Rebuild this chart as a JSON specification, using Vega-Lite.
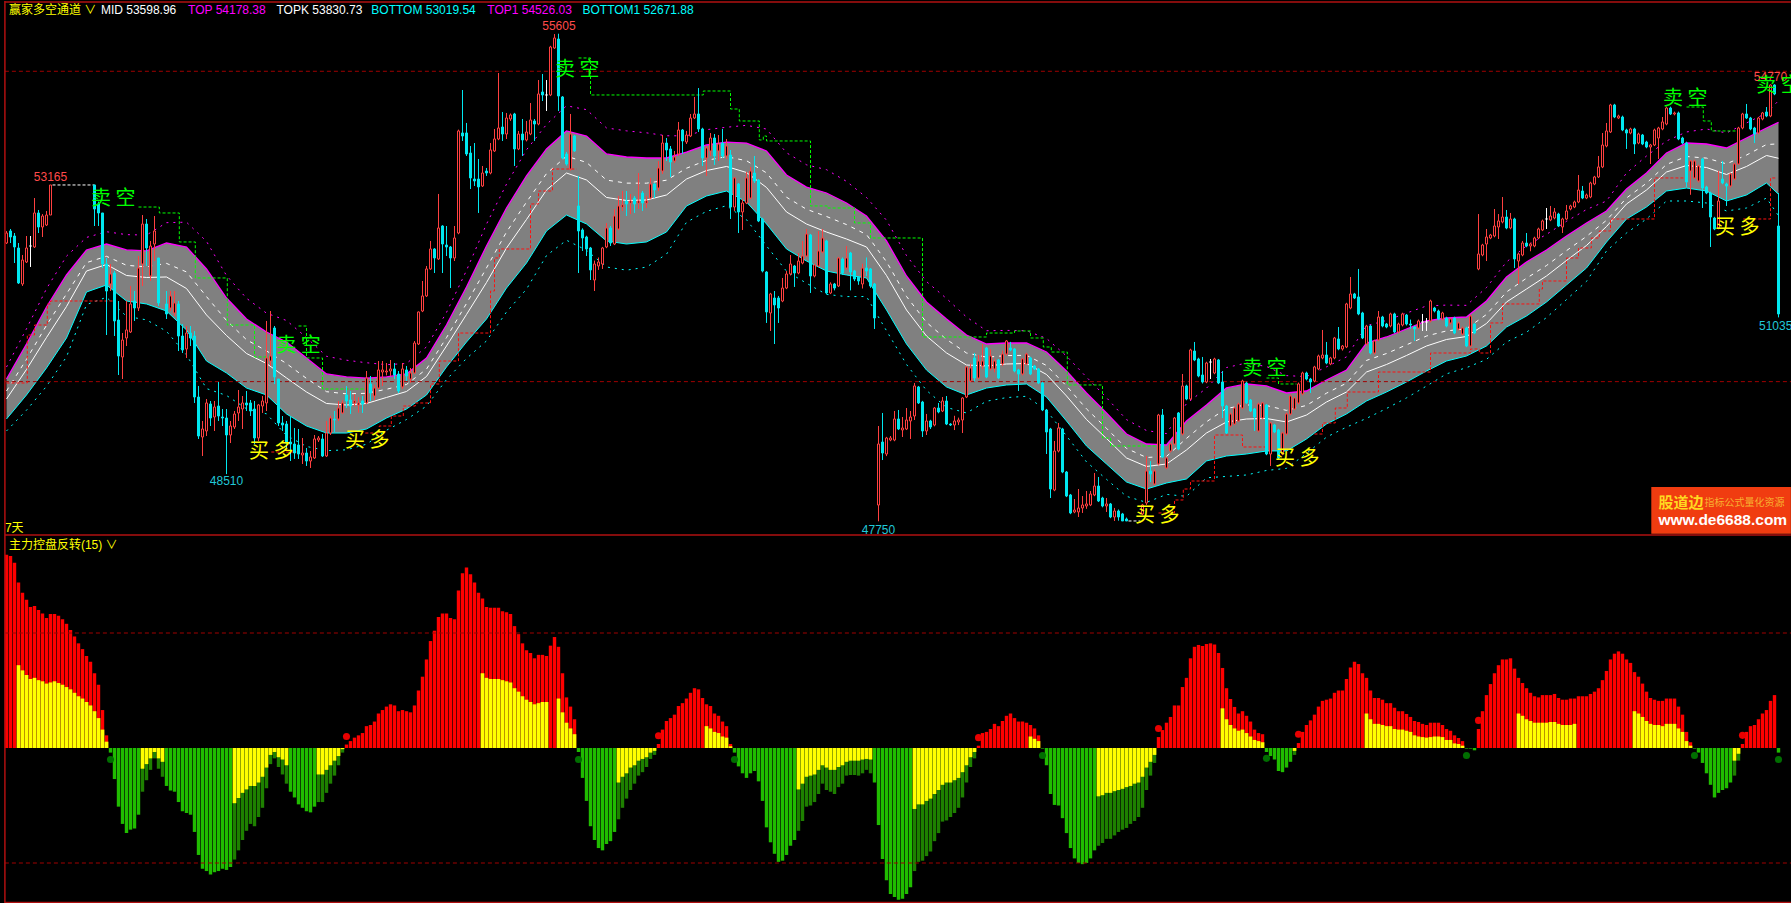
{"$schema":"https://vega.github.io/schema/vega-lite/v6.json","background":"#000000","padding":0,"spacing":0,"bounds":"flush","config":{"view":{"stroke":null},"concat":{"spacing":0}},
"datasets":{
"band":[{"i":0,"t":50042,"b":49398,"m":49720,"k":49849,"u":50235,"d":49205},{"i":5,"t":50606,"b":49785,"m":50196,"k":50360,"u":50852,"d":49540},{"i":10,"t":51202,"b":50220,"m":50711,"k":50907,"u":51497,"d":49925},{"i":15,"t":51718,"b":50703,"m":51210,"k":51413,"u":52021,"d":50399},{"i":20,"t":52121,"b":51444,"m":51782,"k":51917,"u":52323,"d":51241},{"i":25,"t":52217,"b":51557,"m":51887,"k":52019,"u":52415,"d":51359},{"i":30,"t":52121,"b":51299,"m":51710,"k":51874,"u":52368,"d":51052},{"i":35,"t":52105,"b":51251,"m":51678,"k":51849,"u":52361,"d":50995},{"i":40,"t":52233,"b":51138,"m":51686,"k":51905,"u":52561,"d":50811},{"i":45,"t":52169,"b":50832,"m":51500,"k":51767,"u":52569,"d":50431},{"i":50,"t":51815,"b":50332,"m":51074,"k":51370,"u":52260,"d":49888},{"i":55,"t":51347,"b":50139,"m":50743,"k":50985,"u":51709,"d":49777},{"i":60,"t":51009,"b":49897,"m":50453,"k":50675,"u":51343,"d":49563},{"i":65,"t":50800,"b":49785,"m":50292,"k":50495,"u":51103,"d":49481},{"i":70,"t":50638,"b":49479,"m":50059,"k":50291,"u":50985,"d":49133},{"i":75,"t":50381,"b":49285,"m":49833,"k":50052,"u":50710,"d":48956},{"i":80,"t":50123,"b":49172,"m":49648,"k":49838,"u":50408,"d":48888},{"i":85,"t":50075,"b":49172,"m":49623,"k":49803,"u":50345,"d":48901},{"i":90,"t":50058,"b":49237,"m":49648,"k":49812,"u":50304,"d":48992},{"i":95,"t":50075,"b":49414,"m":49745,"k":49877,"u":50273,"d":49217},{"i":100,"t":50123,"b":49559,"m":49841,"k":49954,"u":50292,"d":49390},{"i":105,"t":50381,"b":49785,"m":50083,"k":50202,"u":50560,"d":49606},{"i":110,"t":50912,"b":50236,"m":50574,"k":50709,"u":51115,"d":50033},{"i":115,"t":51525,"b":50638,"m":51082,"k":51259,"u":51791,"d":50373},{"i":120,"t":52185,"b":51009,"m":51597,"k":51832,"u":52538,"d":50656},{"i":125,"t":52797,"b":51508,"m":52152,"k":52410,"u":53182,"d":51122},{"i":130,"t":53313,"b":51911,"m":52612,"k":52892,"u":53734,"d":51490},{"i":135,"t":53748,"b":52427,"m":53087,"k":53351,"u":54143,"d":52031},{"i":140,"t":54038,"b":52684,"m":53361,"k":53632,"u":54444,"d":52278},{"i":145,"t":53957,"b":52540,"m":53249,"k":53532,"u":54382,"d":52116},{"i":150,"t":53667,"b":52266,"m":52967,"k":53247,"u":54087,"d":51847},{"i":155,"t":53619,"b":52217,"m":52918,"k":53198,"u":54040,"d":51796},{"i":160,"t":53603,"b":52250,"m":52926,"k":53197,"u":54008,"d":51845},{"i":165,"t":53603,"b":52411,"m":53007,"k":53245,"u":53961,"d":52053},{"i":170,"t":53699,"b":52829,"m":53264,"k":53438,"u":53960,"d":52568},{"i":175,"t":53812,"b":52991,"m":53401,"k":53565,"u":54059,"d":52743},{"i":180,"t":53860,"b":53071,"m":53466,"k":53624,"u":54098,"d":52834},{"i":185,"t":53844,"b":52894,"m":53369,"k":53559,"u":54129,"d":52609},{"i":190,"t":53716,"b":52540,"m":53128,"k":53363,"u":54069,"d":52187},{"i":195,"t":53329,"b":52137,"m":52733,"k":52971,"u":53687,"d":51779},{"i":200,"t":53135,"b":51943,"m":52539,"k":52777,"u":53493,"d":51585},{"i":205,"t":53039,"b":51782,"m":52410,"k":52661,"u":53415,"d":51405},{"i":210,"t":52878,"b":51718,"m":52298,"k":52530,"u":53226,"d":51370},{"i":215,"t":52668,"b":51670,"m":52169,"k":52369,"u":52967,"d":51371},{"i":220,"t":52266,"b":51154,"m":51710,"k":51932,"u":52600,"d":50820},{"i":225,"t":51702,"b":50606,"m":51154,"k":51373,"u":52031,"d":50277},{"i":230,"t":51283,"b":50187,"m":50735,"k":50954,"u":51612,"d":49858},{"i":235,"t":51009,"b":49914,"m":50462,"k":50681,"u":51339,"d":49585},{"i":240,"t":50751,"b":49785,"m":50268,"k":50461,"u":51041,"d":49495},{"i":245,"t":50606,"b":49897,"m":50252,"k":50394,"u":50820,"d":49684},{"i":250,"t":50622,"b":49946,"m":50284,"k":50419,"u":50825,"d":49743},{"i":255,"t":50622,"b":49962,"m":50292,"k":50424,"u":50820,"d":49764},{"i":260,"t":50477,"b":49752,"m":50115,"k":50260,"u":50696,"d":49534},{"i":265,"t":50171,"b":49366,"m":49769,"k":49930,"u":50412,"d":49126},{"i":270,"t":49817,"b":48963,"m":49390,"k":49561,"u":50073,"d":48707},{"i":275,"t":49495,"b":48673,"m":49084,"k":49248,"u":49742,"d":48426},{"i":280,"t":49156,"b":48383,"m":48770,"k":48924,"u":49388,"d":48152},{"i":285,"t":48995,"b":48270,"m":48633,"k":48778,"u":49212,"d":48054},{"i":290,"t":48979,"b":48367,"m":48673,"k":48795,"u":49163,"d":48183},{"i":295,"t":49366,"b":48432,"m":48899,"k":49086,"u":49646,"d":48152},{"i":300,"t":49624,"b":48722,"m":49173,"k":49353,"u":49895,"d":48451},{"i":305,"t":49898,"b":48802,"m":49350,"k":49569,"u":50227,"d":48473},{"i":310,"t":49962,"b":48834,"m":49398,"k":49624,"u":50300,"d":48496},{"i":315,"t":49930,"b":48883,"m":49406,"k":49615,"u":50243,"d":48569},{"i":320,"t":49817,"b":48883,"m":49350,"k":49537,"u":50097,"d":48603},{"i":325,"t":49849,"b":49076,"m":49462,"k":49617,"u":50081,"d":48843},{"i":330,"t":50026,"b":49318,"m":49672,"k":49814,"u":50238,"d":49106},{"i":335,"t":50187,"b":49479,"m":49833,"k":49975,"u":50399,"d":49267},{"i":340,"t":50622,"b":49688,"m":50155,"k":50342,"u":50902,"d":49408},{"i":345,"t":50719,"b":49833,"m":50276,"k":50453,"u":50985,"d":49567},{"i":350,"t":50848,"b":49994,"m":50421,"k":50592,"u":51104,"d":49738},{"i":355,"t":50977,"b":50171,"m":50574,"k":50735,"u":51219,"d":49929},{"i":360,"t":51025,"b":50332,"m":50679,"k":50817,"u":51233,"d":50125},{"i":365,"t":51041,"b":50413,"m":50727,"k":50853,"u":51229,"d":50225},{"i":370,"t":51299,"b":50574,"m":50937,"k":51082,"u":51516,"d":50358},{"i":375,"t":51686,"b":50880,"m":51283,"k":51444,"u":51928,"d":50638},{"i":380,"t":51927,"b":51057,"m":51492,"k":51666,"u":52188,"d":50796},{"i":385,"t":52121,"b":51283,"m":51702,"k":51870,"u":52372,"d":51032},{"i":390,"t":52346,"b":51557,"m":51952,"k":52110,"u":52582,"d":51322},{"i":395,"t":52556,"b":51831,"m":52194,"k":52339,"u":52773,"d":51615},{"i":400,"t":52749,"b":52249,"m":52499,"k":52599,"u":52910,"d":52105},{"i":405,"t":53103,"b":52620,"m":52862,"k":52958,"u":53361,"d":52394},{"i":410,"t":53361,"b":52813,"m":53087,"k":53197,"u":53635,"d":52620},{"i":415,"t":53683,"b":53071,"m":53377,"k":53499,"u":53877,"d":52910},{"i":420,"t":53844,"b":53119,"m":53482,"k":53627,"u":54022,"d":52910},{"i":425,"t":53828,"b":53071,"m":53450,"k":53601,"u":54070,"d":52878},{"i":430,"t":53764,"b":52910,"m":53337,"k":53508,"u":54006,"d":52749},{"i":435,"t":53925,"b":53007,"m":53466,"k":53650,"u":54167,"d":52797},{"i":440,"t":54086,"b":53200,"m":53643,"k":53820,"u":54328,"d":52958},{"i":443,"t":54178,"b":53019,"m":53598,"k":53830,"u":54526,"d":52672}],
"steps":[{"s":"g1","c":"g","i":33,"p":52813},{"s":"g1","c":"g","i":38.2,"p":52717},{"s":"g1","c":"g","i":43.2,"p":52250},{"s":"g1","c":"g","i":47.2,"p":51670},{"s":"g1","c":"g","i":55.2,"p":50912},{"s":"g1","c":"g","i":62,"p":50397},{"s":"g1","c":"g","i":66,"p":50397},{"s":"g2","c":"g","i":73,"p":50896},{"s":"g2","c":"g","i":75,"p":50381},{"s":"g2","c":"g","i":79,"p":49881},{"s":"g2","c":"g","i":89.7,"p":49881},{"s":"g3","c":"g","i":143,"p":55214},{"s":"g3","c":"g","i":146,"p":54618},{"s":"g3","c":"g","i":174.2,"p":54682},{"s":"g3","c":"g","i":181,"p":54392},{"s":"g3","c":"g","i":183.2,"p":54199},{"s":"g3","c":"g","i":188.2,"p":53893},{"s":"g3","c":"g","i":189.2,"p":53957},{"s":"g3","c":"g","i":190,"p":53877},{"s":"g3","c":"g","i":201,"p":52830},{"s":"g3","c":"g","i":205.2,"p":52797},{"s":"g3","c":"g","i":212,"p":52556},{"s":"g3","c":"g","i":216,"p":52314},{"s":"g3","c":"g","i":229,"p":50719},{"s":"g3","c":"g","i":245,"p":50783},{"s":"g3","c":"g","i":252,"p":50816},{"s":"g3","c":"g","i":256,"p":50703},{"s":"g3","c":"g","i":259.2,"p":50558},{"s":"g3","c":"g","i":261.2,"p":50477},{"s":"g3","c":"g","i":265.2,"p":49946},{"s":"g3","c":"g","i":274,"p":49092},{"s":"g3","c":"g","i":276,"p":48963},{"s":"g3","c":"g","i":287.7,"p":48963},{"s":"g4","c":"g","i":315,"p":50058},{"s":"g4","c":"g","i":318,"p":49962},{"s":"g4","c":"g","i":322.5,"p":49962},{"s":"g5","c":"g","i":420,"p":54424},{"s":"g5","c":"g","i":424.2,"p":54199},{"s":"g5","c":"g","i":426.2,"p":54038},{"s":"g5","c":"g","i":433,"p":54038},{"s":"w1","c":"w","i":11.5,"p":53168},{"s":"w1","c":"w","i":22,"p":53168},{"s":"w2","c":"w","i":280.5,"p":47755},{"s":"w2","c":"w","i":283.5,"p":47755},{"s":"r1","c":"r","i":0,"p":49978},{"s":"r1","c":"r","i":5.2,"p":50751},{"s":"r1","c":"r","i":7,"p":50912},{"s":"r1","c":"r","i":10.2,"p":51251},{"s":"r1","c":"r","i":11,"p":51299},{"s":"r1","c":"r","i":26.7,"p":51299},{"s":"r2","c":"r","i":66.2,"p":48866},{"s":"r2","c":"r","i":73,"p":48866},{"s":"r3","c":"r","i":89.7,"p":49172},{"s":"r3","c":"r","i":93.2,"p":49285},{"s":"r3","c":"r","i":96.2,"p":49446},{"s":"r3","c":"r","i":99.2,"p":49607},{"s":"r3","c":"r","i":102.2,"p":49656},{"s":"r3","c":"r","i":106,"p":49962},{"s":"r3","c":"r","i":108.2,"p":50332},{"s":"r3","c":"r","i":113,"p":50783},{"s":"r3","c":"r","i":121,"p":51460},{"s":"r3","c":"r","i":122,"p":51992},{"s":"r3","c":"r","i":123.2,"p":52137},{"s":"r3","c":"r","i":131,"p":52862},{"s":"r3","c":"r","i":133,"p":53071},{"s":"r3","c":"r","i":136.5,"p":53425},{"s":"r3","c":"r","i":142.5,"p":53425},{"s":"r4","c":"r","i":288,"p":47884},{"s":"r4","c":"r","i":292,"p":48093},{"s":"r4","c":"r","i":294.2,"p":48270},{"s":"r4","c":"r","i":296,"p":48399},{"s":"r4","c":"r","i":302,"p":49140},{"s":"r4","c":"r","i":309,"p":48947},{"s":"r4","c":"r","i":314.7,"p":48947},{"s":"r5","c":"r","i":327,"p":49156},{"s":"r5","c":"r","i":329,"p":49334},{"s":"r5","c":"r","i":332.2,"p":49575},{"s":"r5","c":"r","i":335.2,"p":49833},{"s":"r5","c":"r","i":343,"p":50155},{"s":"r5","c":"r","i":356,"p":50461},{"s":"r5","c":"r","i":366,"p":50526},{"s":"r5","c":"r","i":368.2,"p":50461},{"s":"r5","c":"r","i":371,"p":50945},{"s":"r5","c":"r","i":374,"p":51251},{"s":"r5","c":"r","i":383.2,"p":51492},{"s":"r5","c":"r","i":384,"p":51621},{"s":"r5","c":"r","i":390,"p":51992},{"s":"r5","c":"r","i":393,"p":52153},{"s":"r5","c":"r","i":396.2,"p":52314},{"s":"r5","c":"r","i":398.2,"p":52427},{"s":"r5","c":"r","i":401,"p":52620},{"s":"r5","c":"r","i":412,"p":53281},{"s":"r5","c":"r","i":420,"p":53281},{"s":"r6","c":"r","i":434.2,"p":52620},{"s":"r6","c":"r","i":441,"p":53281},{"s":"r6","c":"r","i":442.7,"p":53281}],
"candles":[{"i":0,"o":52233,"h":52427,"l":52217,"c":52394},{"i":1,"o":52427,"h":52459,"l":52233,"c":52330},{"i":2,"o":52346,"h":52394,"l":51911,"c":52169},{"i":3,"o":52153,"h":52233,"l":51573,"c":51589},{"i":4,"o":51573,"h":52040,"l":51541,"c":51959},{"i":5,"o":51927,"h":52346,"l":51911,"c":52153},{"i":6,"o":52185,"h":52346,"l":51847,"c":52185},{"i":7,"o":52169,"h":52958,"l":52153,"c":52717},{"i":8,"o":52717,"h":52765,"l":52394,"c":52491},{"i":9,"o":52491,"h":52700,"l":52330,"c":52668},{"i":10,"o":52523,"h":52749,"l":52507,"c":52684},{"i":11,"o":52684,"h":53168,"l":52684,"c":53168},{"i":22,"o":53168,"h":53168,"l":52507,"c":52781},{"i":23,"o":52862,"h":52900,"l":52507,"c":52717},{"i":24,"o":52717,"h":52717,"l":51830,"c":51895},{"i":25,"o":51895,"h":51992,"l":50751,"c":51460},{"i":26,"o":51573,"h":51895,"l":51460,"c":51734},{"i":27,"o":51750,"h":51782,"l":50735,"c":50977},{"i":28,"o":50993,"h":51299,"l":50107,"c":50413},{"i":29,"o":50397,"h":50783,"l":50042,"c":50670},{"i":30,"o":50703,"h":51299,"l":50574,"c":50832},{"i":31,"o":50800,"h":51541,"l":50783,"c":51251},{"i":32,"o":51299,"h":51460,"l":50977,"c":51186},{"i":33,"o":51186,"h":52024,"l":51138,"c":51830},{"i":34,"o":51895,"h":52684,"l":51541,"c":52539},{"i":35,"o":52539,"h":52620,"l":51863,"c":52153},{"i":36,"o":51702,"h":52266,"l":51621,"c":52185},{"i":37,"o":52217,"h":52668,"l":51943,"c":52427},{"i":38,"o":51992,"h":51992,"l":51219,"c":51267},{"i":40,"o":51251,"h":51460,"l":51009,"c":51090},{"i":41,"o":51186,"h":51460,"l":51138,"c":51380},{"i":42,"o":51106,"h":51460,"l":51057,"c":51267},{"i":43,"o":51251,"h":51299,"l":50493,"c":50735},{"i":44,"o":50735,"h":50928,"l":50461,"c":50510},{"i":45,"o":50526,"h":50896,"l":50381,"c":50783},{"i":46,"o":50783,"h":50896,"l":50574,"c":50703},{"i":47,"o":50735,"h":50816,"l":49656,"c":49752},{"i":48,"o":49752,"h":49930,"l":49076,"c":49124},{"i":49,"o":49108,"h":49366,"l":48802,"c":49237},{"i":50,"o":49205,"h":49720,"l":49124,"c":49656},{"i":51,"o":49640,"h":49688,"l":49285,"c":49414},{"i":52,"o":49430,"h":49688,"l":49205,"c":49591},{"i":53,"o":49607,"h":49994,"l":49366,"c":49446},{"i":54,"o":49430,"h":49559,"l":49285,"c":49414},{"i":55,"o":49414,"h":49559,"l":48510,"c":49140},{"i":56,"o":49140,"h":49366,"l":49011,"c":49285},{"i":57,"o":49269,"h":49527,"l":49237,"c":49478},{"i":58,"o":49495,"h":49865,"l":49366,"c":49591},{"i":59,"o":49559,"h":49768,"l":49237,"c":49656},{"i":60,"o":49656,"h":49849,"l":49527,"c":49624},{"i":61,"o":49656,"h":49704,"l":49446,"c":49527},{"i":62,"o":49559,"h":49688,"l":48995,"c":49092},{"i":63,"o":49092,"h":49640,"l":49043,"c":49624},{"i":64,"o":49607,"h":49768,"l":49495,"c":49688},{"i":65,"o":49656,"h":50977,"l":49527,"c":50381},{"i":66,"o":50332,"h":51138,"l":50252,"c":50413},{"i":67,"o":50864,"h":50896,"l":49962,"c":50075},{"i":68,"o":50042,"h":50042,"l":49285,"c":49334},{"i":69,"o":49334,"h":49446,"l":49205,"c":49301},{"i":70,"o":49317,"h":49366,"l":48931,"c":49011},{"i":71,"o":49027,"h":49430,"l":48721,"c":48995},{"i":72,"o":48995,"h":49253,"l":48754,"c":48850},{"i":73,"o":48979,"h":49237,"l":48754,"c":48834},{"i":74,"o":48818,"h":49092,"l":48673,"c":48850},{"i":75,"o":48850,"h":48931,"l":48641,"c":48721},{"i":76,"o":48721,"h":48882,"l":48609,"c":48786},{"i":77,"o":48770,"h":49140,"l":48754,"c":49076},{"i":78,"o":49060,"h":49124,"l":49027,"c":49092},{"i":79,"o":49076,"h":49156,"l":48786,"c":48802},{"i":80,"o":48802,"h":49366,"l":48786,"c":49172},{"i":81,"o":49172,"h":49450,"l":49140,"c":49414},{"i":82,"o":49398,"h":49527,"l":49188,"c":49382},{"i":83,"o":49398,"h":49688,"l":49366,"c":49575},{"i":84,"o":49495,"h":49700,"l":49480,"c":49656},{"i":85,"o":49785,"h":49930,"l":49575,"c":49688},{"i":86,"o":49704,"h":49849,"l":49479,"c":49607},{"i":87,"o":49656,"h":49800,"l":49600,"c":49688},{"i":88,"o":49624,"h":49750,"l":49500,"c":49656},{"i":89,"o":49688,"h":49768,"l":49495,"c":49640},{"i":90,"o":49656,"h":50171,"l":49640,"c":50058},{"i":91,"o":49962,"h":50091,"l":49688,"c":49817},{"i":92,"o":49768,"h":49950,"l":49700,"c":49897},{"i":93,"o":49897,"h":50332,"l":49881,"c":50188},{"i":94,"o":50155,"h":50332,"l":49930,"c":50188},{"i":95,"o":50155,"h":50300,"l":50100,"c":50171},{"i":96,"o":50171,"h":50348,"l":50091,"c":50204},{"i":97,"o":50204,"h":50300,"l":50042,"c":50107},{"i":98,"o":50123,"h":50171,"l":49817,"c":49849},{"i":99,"o":49914,"h":50300,"l":49881,"c":50204},{"i":100,"o":50188,"h":50252,"l":50010,"c":50091},{"i":101,"o":50042,"h":50220,"l":49980,"c":50139},{"i":102,"o":50139,"h":50654,"l":50123,"c":50622},{"i":103,"o":50606,"h":51130,"l":50590,"c":51122},{"i":104,"o":51138,"h":51621,"l":51120,"c":51380},{"i":105,"o":51380,"h":51863,"l":51364,"c":51815},{"i":106,"o":51815,"h":52266,"l":51800,"c":52137},{"i":107,"o":52137,"h":52150,"l":51750,"c":51992},{"i":108,"o":51976,"h":53023,"l":51960,"c":52475},{"i":109,"o":52507,"h":52520,"l":51750,"c":52217},{"i":110,"o":52201,"h":52507,"l":52024,"c":52169},{"i":111,"o":52169,"h":52185,"l":51508,"c":51992},{"i":112,"o":51992,"h":52507,"l":51943,"c":52314},{"i":113,"o":52394,"h":54060,"l":52375,"c":54038},{"i":114,"o":54006,"h":54698,"l":53877,"c":53957},{"i":115,"o":54006,"h":54167,"l":53635,"c":53667},{"i":116,"o":53683,"h":53796,"l":53103,"c":53281},{"i":117,"o":53264,"h":53844,"l":53152,"c":53232},{"i":118,"o":53264,"h":53587,"l":52717,"c":53136},{"i":119,"o":53152,"h":53474,"l":53136,"c":53361},{"i":120,"o":53393,"h":53442,"l":53313,"c":53361},{"i":121,"o":53361,"h":53844,"l":53340,"c":53732},{"i":122,"o":53716,"h":54070,"l":53700,"c":53909},{"i":123,"o":53909,"h":54972,"l":53890,"c":54086},{"i":124,"o":54102,"h":54344,"l":53877,"c":53989},{"i":125,"o":53989,"h":54328,"l":53909,"c":54247},{"i":126,"o":54231,"h":54320,"l":54200,"c":54296},{"i":127,"o":54312,"h":54330,"l":53474,"c":53748},{"i":128,"o":53748,"h":54038,"l":53730,"c":53989},{"i":129,"o":53989,"h":54231,"l":53635,"c":53893},{"i":130,"o":53893,"h":54199,"l":53870,"c":54022},{"i":131,"o":53989,"h":54489,"l":53970,"c":54215},{"i":132,"o":54199,"h":54231,"l":53877,"c":54150},{"i":133,"o":54150,"h":54859,"l":54130,"c":54634},{"i":134,"o":54666,"h":54956,"l":54521,"c":54618},{"i":135,"o":54618,"h":54859,"l":54360,"c":54618},{"i":136,"o":54618,"h":55410,"l":54600,"c":55391},{"i":137,"o":55375,"h":55600,"l":55360,"c":55536},{"i":138,"o":55520,"h":55605,"l":54360,"c":54602},{"i":139,"o":54586,"h":54600,"l":53580,"c":53603},{"i":140,"o":53667,"h":53700,"l":53480,"c":53506},{"i":141,"o":53425,"h":54312,"l":53400,"c":53989},{"i":142,"o":53957,"h":53970,"l":53700,"c":53716},{"i":143,"o":52830,"h":53313,"l":51750,"c":52427},{"i":144,"o":52443,"h":52470,"l":52105,"c":52314},{"i":145,"o":52330,"h":52350,"l":52024,"c":52137},{"i":146,"o":52153,"h":52170,"l":51637,"c":51799},{"i":147,"o":51637,"h":51950,"l":51460,"c":51895},{"i":148,"o":51863,"h":52000,"l":51800,"c":51927},{"i":149,"o":51895,"h":52170,"l":51815,"c":52153},{"i":150,"o":52169,"h":52555,"l":52150,"c":52475},{"i":151,"o":52475,"h":52507,"l":52185,"c":52233},{"i":152,"o":52217,"h":52781,"l":52200,"c":52668},{"i":153,"o":52459,"h":52991,"l":52440,"c":52830},{"i":154,"o":52813,"h":53071,"l":52749,"c":52846},{"i":155,"o":52910,"h":53071,"l":52668,"c":52862},{"i":156,"o":52878,"h":53023,"l":52700,"c":52910},{"i":157,"o":52958,"h":52991,"l":52717,"c":52862},{"i":158,"o":52878,"h":53361,"l":52781,"c":52910},{"i":159,"o":53039,"h":53071,"l":52749,"c":52878},{"i":160,"o":52878,"h":52991,"l":52797,"c":52910},{"i":161,"o":52958,"h":53281,"l":52940,"c":53184},{"i":162,"o":53184,"h":53200,"l":52958,"c":53087},{"i":163,"o":53119,"h":53554,"l":53071,"c":53442},{"i":164,"o":53393,"h":53973,"l":53345,"c":53844},{"i":165,"o":53844,"h":53925,"l":53554,"c":53732},{"i":166,"o":53748,"h":53796,"l":53297,"c":53538},{"i":167,"o":53554,"h":53716,"l":53522,"c":53619},{"i":168,"o":53667,"h":54183,"l":53635,"c":54054},{"i":169,"o":54054,"h":54070,"l":53667,"c":53877},{"i":170,"o":53860,"h":54038,"l":53828,"c":53973},{"i":171,"o":53957,"h":54312,"l":53940,"c":54247},{"i":172,"o":54247,"h":54586,"l":54230,"c":54312},{"i":173,"o":54312,"h":54730,"l":54022,"c":54070},{"i":174,"o":54070,"h":54090,"l":53474,"c":53603},{"i":175,"o":53603,"h":53796,"l":53313,"c":53764},{"i":176,"o":53716,"h":54005,"l":53635,"c":53925},{"i":177,"o":53925,"h":53989,"l":53490,"c":53635},{"i":178,"o":53716,"h":53973,"l":53554,"c":53828},{"i":179,"o":53844,"h":54070,"l":53603,"c":53635},{"i":180,"o":53635,"h":53909,"l":53587,"c":53796},{"i":181,"o":53651,"h":53732,"l":52620,"c":52813},{"i":182,"o":52813,"h":53297,"l":52749,"c":53281},{"i":183,"o":53184,"h":53200,"l":52394,"c":52733},{"i":184,"o":52733,"h":52942,"l":52443,"c":52878},{"i":185,"o":52878,"h":53377,"l":52860,"c":53281},{"i":186,"o":52958,"h":53458,"l":52940,"c":53393},{"i":187,"o":53361,"h":53635,"l":53200,"c":53232},{"i":188,"o":53248,"h":53260,"l":52570,"c":52588},{"i":189,"o":52620,"h":52640,"l":51760,"c":51782},{"i":190,"o":51766,"h":51780,"l":50945,"c":51122},{"i":191,"o":51106,"h":51430,"l":50816,"c":51412},{"i":192,"o":51347,"h":51460,"l":50606,"c":51235},{"i":193,"o":51347,"h":51380,"l":50945,"c":51186},{"i":194,"o":51299,"h":51670,"l":51280,"c":51508},{"i":195,"o":51508,"h":51782,"l":51490,"c":51734},{"i":196,"o":51734,"h":52040,"l":51710,"c":51895},{"i":197,"o":51863,"h":51880,"l":51525,"c":51750},{"i":198,"o":51750,"h":52072,"l":51730,"c":51943},{"i":199,"o":51911,"h":52266,"l":51890,"c":52024},{"i":200,"o":52024,"h":52459,"l":52010,"c":52378},{"i":201,"o":52362,"h":52380,"l":51428,"c":51702},{"i":202,"o":51702,"h":51900,"l":51680,"c":51879},{"i":203,"o":51863,"h":52427,"l":51845,"c":52105},{"i":204,"o":52089,"h":52459,"l":52070,"c":52314},{"i":205,"o":52266,"h":52285,"l":51410,"c":51428},{"i":206,"o":51428,"h":51600,"l":51410,"c":51573},{"i":207,"o":51573,"h":51590,"l":51470,"c":51508},{"i":208,"o":51541,"h":52010,"l":51525,"c":51992},{"i":209,"o":51976,"h":52000,"l":51720,"c":51750},{"i":210,"o":51830,"h":52185,"l":51800,"c":51992},{"i":211,"o":52072,"h":52090,"l":51470,"c":51766},{"i":212,"o":51782,"h":51800,"l":51620,"c":51653},{"i":213,"o":51686,"h":51700,"l":51560,"c":51621},{"i":214,"o":51573,"h":51900,"l":51500,"c":51830},{"i":215,"o":51830,"h":52000,"l":51700,"c":51782},{"i":216,"o":51815,"h":51830,"l":51510,"c":51541},{"i":217,"o":51573,"h":51590,"l":50848,"c":51025},{"i":218,"o":48012,"h":49285,"l":47750,"c":48995},{"i":219,"o":49027,"h":49495,"l":48737,"c":48850},{"i":220,"o":48834,"h":49110,"l":48800,"c":49092},{"i":221,"o":49060,"h":49124,"l":49040,"c":49092},{"i":222,"o":49060,"h":49527,"l":49040,"c":49398},{"i":223,"o":49398,"h":49543,"l":49220,"c":49237},{"i":224,"o":49221,"h":49430,"l":49108,"c":49253},{"i":225,"o":49237,"h":49575,"l":49220,"c":49382},{"i":226,"o":49366,"h":49527,"l":49076,"c":49430},{"i":227,"o":49446,"h":49978,"l":49382,"c":49930},{"i":228,"o":49914,"h":49930,"l":49640,"c":49656},{"i":229,"o":49672,"h":49690,"l":49108,"c":49205},{"i":230,"o":49205,"h":49479,"l":49140,"c":49366},{"i":231,"o":49366,"h":49385,"l":49237,"c":49269},{"i":232,"o":49301,"h":49590,"l":49280,"c":49575},{"i":233,"o":49575,"h":49656,"l":49490,"c":49511},{"i":234,"o":49527,"h":49752,"l":49510,"c":49688},{"i":235,"o":49688,"h":49768,"l":49300,"c":49317},{"i":236,"o":49317,"h":49330,"l":49285,"c":49301},{"i":237,"o":49301,"h":49450,"l":49220,"c":49366},{"i":238,"o":49350,"h":49420,"l":49300,"c":49382},{"i":239,"o":49382,"h":49750,"l":49172,"c":49736},{"i":240,"o":49752,"h":50250,"l":49735,"c":50236},{"i":241,"o":50010,"h":50290,"l":49990,"c":50220},{"i":242,"o":50381,"h":50462,"l":50000,"c":50058},{"i":243,"o":50058,"h":50430,"l":50040,"c":50332},{"i":244,"o":50252,"h":50606,"l":50200,"c":50332},{"i":245,"o":50542,"h":50560,"l":50055,"c":50075},{"i":246,"o":50204,"h":50520,"l":50180,"c":50413},{"i":247,"o":50204,"h":50370,"l":50150,"c":50332},{"i":248,"o":50348,"h":50365,"l":50040,"c":50058},{"i":249,"o":50284,"h":50500,"l":50250,"c":50445},{"i":250,"o":50445,"h":50670,"l":50420,"c":50655},{"i":251,"o":50542,"h":50640,"l":50490,"c":50510},{"i":252,"o":50526,"h":50540,"l":50150,"c":50171},{"i":253,"o":50188,"h":50205,"l":49849,"c":50123},{"i":254,"o":50123,"h":50380,"l":50100,"c":50365},{"i":255,"o":50284,"h":50465,"l":50265,"c":50445},{"i":256,"o":50381,"h":50400,"l":50105,"c":50123},{"i":257,"o":50252,"h":50270,"l":50185,"c":50204},{"i":258,"o":50204,"h":50220,"l":49960,"c":49978},{"i":259,"o":49978,"h":50000,"l":49525,"c":49543},{"i":260,"o":49543,"h":49560,"l":48834,"c":49188},{"i":261,"o":49237,"h":49255,"l":48125,"c":48270},{"i":262,"o":48254,"h":49044,"l":48235,"c":48882},{"i":263,"o":48882,"h":49334,"l":48860,"c":49253},{"i":264,"o":49237,"h":49255,"l":48525,"c":48544},{"i":265,"o":48544,"h":48560,"l":48140,"c":48157},{"i":266,"o":48174,"h":48190,"l":47865,"c":47884},{"i":267,"o":47900,"h":48109,"l":47880,"c":47932},{"i":268,"o":47900,"h":48270,"l":47819,"c":47964},{"i":269,"o":47964,"h":48157,"l":47884,"c":48013},{"i":270,"o":47996,"h":48238,"l":47950,"c":48029},{"i":271,"o":48013,"h":48238,"l":47995,"c":48190},{"i":272,"o":48174,"h":48528,"l":48155,"c":48318},{"i":273,"o":48318,"h":48464,"l":48060,"c":48077},{"i":274,"o":48125,"h":48145,"l":47975,"c":47996},{"i":275,"o":47996,"h":48125,"l":47900,"c":48029},{"i":276,"o":48029,"h":48045,"l":47800,"c":47819},{"i":277,"o":47819,"h":47965,"l":47755,"c":47916},{"i":278,"o":47916,"h":47940,"l":47760,"c":47819},{"i":279,"o":47868,"h":47885,"l":47755,"c":47755},{"i":280,"o":47787,"h":47810,"l":47755,"c":47755},{"i":284,"o":47868,"h":48030,"l":47850,"c":48013},{"i":285,"o":48045,"h":48802,"l":48013,"c":48560},{"i":286,"o":48560,"h":48720,"l":48383,"c":48512},{"i":287,"o":48351,"h":48590,"l":48330,"c":48560},{"i":288,"o":48673,"h":49480,"l":48650,"c":49462},{"i":289,"o":49462,"h":49559,"l":48770,"c":48786},{"i":290,"o":48609,"h":48790,"l":48590,"c":48770},{"i":291,"o":48882,"h":49015,"l":48860,"c":48995},{"i":292,"o":48995,"h":49430,"l":48975,"c":49414},{"i":293,"o":49495,"h":49510,"l":48895,"c":48915},{"i":294,"o":49156,"h":50123,"l":49135,"c":49930},{"i":295,"o":49930,"h":49950,"l":49700,"c":49720},{"i":296,"o":49720,"h":50530,"l":49700,"c":50510},{"i":297,"o":50493,"h":50639,"l":50330,"c":50349},{"i":298,"o":50365,"h":50385,"l":50070,"c":50091},{"i":299,"o":50107,"h":50397,"l":49970,"c":49994},{"i":300,"o":49994,"h":50320,"l":49975,"c":50300},{"i":301,"o":50316,"h":50365,"l":50042,"c":50316},{"i":302,"o":50139,"h":50385,"l":50120,"c":50365},{"i":303,"o":50349,"h":50365,"l":49960,"c":49978},{"i":304,"o":49994,"h":50171,"l":49414,"c":49607},{"i":305,"o":49607,"h":49625,"l":49155,"c":49172},{"i":306,"o":49285,"h":49500,"l":49265,"c":49478},{"i":307,"o":49317,"h":49595,"l":49300,"c":49575},{"i":308,"o":49366,"h":49660,"l":49350,"c":49640},{"i":309,"o":49575,"h":50030,"l":49555,"c":50010},{"i":310,"o":49978,"h":50000,"l":49640,"c":49656},{"i":311,"o":49704,"h":49720,"l":49510,"c":49527},{"i":312,"o":49559,"h":49575,"l":49205,"c":49430},{"i":313,"o":49205,"h":49660,"l":49185,"c":49640},{"i":314,"o":49414,"h":49670,"l":49395,"c":49656},{"i":315,"o":49624,"h":49640,"l":48815,"c":48834},{"i":316,"o":48834,"h":49350,"l":48641,"c":49334},{"i":317,"o":49301,"h":49320,"l":49170,"c":49188},{"i":318,"o":49221,"h":49240,"l":48750,"c":48770},{"i":319,"o":48834,"h":49190,"l":48815,"c":49172},{"i":320,"o":49156,"h":49500,"l":49135,"c":49478},{"i":321,"o":49478,"h":49790,"l":49460,"c":49768},{"i":322,"o":49559,"h":49755,"l":49540,"c":49736},{"i":323,"o":49656,"h":49985,"l":49635,"c":49962},{"i":324,"o":49801,"h":50160,"l":49780,"c":50139},{"i":325,"o":50139,"h":50160,"l":50020,"c":50042},{"i":326,"o":50042,"h":50060,"l":49817,"c":49994},{"i":327,"o":50010,"h":50255,"l":49990,"c":50236},{"i":328,"o":50204,"h":50435,"l":50185,"c":50413},{"i":329,"o":50381,"h":50832,"l":50360,"c":50429},{"i":330,"o":50429,"h":50639,"l":50280,"c":50300},{"i":331,"o":50284,"h":50400,"l":50265,"c":50381},{"i":332,"o":50381,"h":50720,"l":50360,"c":50703},{"i":333,"o":50687,"h":50880,"l":50506,"c":50526},{"i":334,"o":50526,"h":50590,"l":50500,"c":50574},{"i":335,"o":50558,"h":51270,"l":50540,"c":51251},{"i":336,"o":51186,"h":51686,"l":51165,"c":51412},{"i":337,"o":51412,"h":51430,"l":51330,"c":51347},{"i":338,"o":51364,"h":51815,"l":51070,"c":51090},{"i":339,"o":51106,"h":51125,"l":50685,"c":50703},{"i":340,"o":50606,"h":50915,"l":50585,"c":50896},{"i":341,"o":50896,"h":50915,"l":50440,"c":50461},{"i":342,"o":50461,"h":50675,"l":50440,"c":50655},{"i":343,"o":50671,"h":51138,"l":50650,"c":51041},{"i":344,"o":51041,"h":51060,"l":50875,"c":50896},{"i":345,"o":50928,"h":50945,"l":50860,"c":50880},{"i":346,"o":50896,"h":51110,"l":50875,"c":51090},{"i":347,"o":51090,"h":51110,"l":50780,"c":50800},{"i":348,"o":50800,"h":50950,"l":50780,"c":50928},{"i":349,"o":50912,"h":51110,"l":50890,"c":51090},{"i":350,"o":51073,"h":51090,"l":50905,"c":50928},{"i":351,"o":50928,"h":51000,"l":50850,"c":50912},{"i":352,"o":50880,"h":50900,"l":50655,"c":50848},{"i":353,"o":50864,"h":51000,"l":50845,"c":50977},{"i":354,"o":50961,"h":51090,"l":50816,"c":50961},{"i":355,"o":50961,"h":51025,"l":50816,"c":50961},{"i":356,"o":50977,"h":51320,"l":50955,"c":51299},{"i":357,"o":51186,"h":51205,"l":51115,"c":51138},{"i":358,"o":51138,"h":51160,"l":50990,"c":51009},{"i":359,"o":51009,"h":51125,"l":50985,"c":51106},{"i":360,"o":51025,"h":51045,"l":50875,"c":50896},{"i":361,"o":50945,"h":51030,"l":50925,"c":51009},{"i":362,"o":51025,"h":51045,"l":50765,"c":50783},{"i":363,"o":50848,"h":50965,"l":50825,"c":50945},{"i":364,"o":50767,"h":50885,"l":50750,"c":50864},{"i":365,"o":50864,"h":50885,"l":50555,"c":50574},{"i":366,"o":50574,"h":51075,"l":50555,"c":51057},{"i":367,"o":50928,"h":50945,"l":50765,"c":50783},{"i":368,"o":51815,"h":52700,"l":51795,"c":52056},{"i":369,"o":52040,"h":52220,"l":52020,"c":52201},{"i":370,"o":52217,"h":52459,"l":51943,"c":52330},{"i":371,"o":52314,"h":52380,"l":52295,"c":52362},{"i":372,"o":52346,"h":52781,"l":52325,"c":52507},{"i":373,"o":52491,"h":52700,"l":52298,"c":52588},{"i":374,"o":52572,"h":52974,"l":52550,"c":52652},{"i":375,"o":52652,"h":52765,"l":52455,"c":52475},{"i":376,"o":52475,"h":52717,"l":52455,"c":52620},{"i":377,"o":52620,"h":52640,"l":51830,"c":51976},{"i":378,"o":51943,"h":52075,"l":51573,"c":52056},{"i":379,"o":52040,"h":52266,"l":52020,"c":52233},{"i":380,"o":52233,"h":52394,"l":52165,"c":52185},{"i":381,"o":52185,"h":52240,"l":52100,"c":52217},{"i":382,"o":52185,"h":52335,"l":52165,"c":52314},{"i":383,"o":52314,"h":52480,"l":52295,"c":52459},{"i":384,"o":52443,"h":52610,"l":52425,"c":52588},{"i":385,"o":52620,"h":52797,"l":52459,"c":52620},{"i":386,"o":52604,"h":52830,"l":52585,"c":52668},{"i":387,"o":52636,"h":52797,"l":52615,"c":52733},{"i":388,"o":52700,"h":52720,"l":52490,"c":52507},{"i":389,"o":52491,"h":52640,"l":52394,"c":52620},{"i":390,"o":52620,"h":52846,"l":52600,"c":52749},{"i":391,"o":52781,"h":52850,"l":52760,"c":52830},{"i":392,"o":52813,"h":52915,"l":52795,"c":52894},{"i":393,"o":52894,"h":53329,"l":52875,"c":53087},{"i":394,"o":53071,"h":53152,"l":52940,"c":52958},{"i":395,"o":52958,"h":53030,"l":52940,"c":53007},{"i":396,"o":52974,"h":53220,"l":52955,"c":53200},{"i":397,"o":53184,"h":53315,"l":53165,"c":53297},{"i":398,"o":53297,"h":53635,"l":53280,"c":53458},{"i":399,"o":53458,"h":54005,"l":53440,"c":53812},{"i":400,"o":53796,"h":54167,"l":53775,"c":54038},{"i":401,"o":54022,"h":54475,"l":54005,"c":54457},{"i":402,"o":54457,"h":54475,"l":54245,"c":54263},{"i":403,"o":54247,"h":54300,"l":54230,"c":54279},{"i":404,"o":54263,"h":54285,"l":54035,"c":54054},{"i":405,"o":54054,"h":54075,"l":53748,"c":54005},{"i":406,"o":54005,"h":54090,"l":53985,"c":54070},{"i":407,"o":54070,"h":54090,"l":53667,"c":53828},{"i":408,"o":53844,"h":54010,"l":53825,"c":53989},{"i":409,"o":53973,"h":53990,"l":53810,"c":53828},{"i":410,"o":53860,"h":53880,"l":53760,"c":53780},{"i":411,"o":53780,"h":53830,"l":53506,"c":53812},{"i":412,"o":53812,"h":54075,"l":53795,"c":54054},{"i":413,"o":53925,"h":54105,"l":53587,"c":54086},{"i":414,"o":54070,"h":54263,"l":54050,"c":54183},{"i":415,"o":54150,"h":54430,"l":54130,"c":54408},{"i":416,"o":54408,"h":54430,"l":54295,"c":54312},{"i":417,"o":54312,"h":54350,"l":54290,"c":54328},{"i":418,"o":54328,"h":54350,"l":53890,"c":53909},{"i":419,"o":53925,"h":53945,"l":53825,"c":53844},{"i":420,"o":53844,"h":53865,"l":53136,"c":53216},{"i":421,"o":53393,"h":53570,"l":53010,"c":53554},{"i":422,"o":53281,"h":53575,"l":53265,"c":53554},{"i":423,"o":53232,"h":53495,"l":53210,"c":53474},{"i":424,"o":53587,"h":53605,"l":52797,"c":53119},{"i":425,"o":53136,"h":53155,"l":53020,"c":53039},{"i":426,"o":53039,"h":53060,"l":52169,"c":52652},{"i":427,"o":52636,"h":52655,"l":52440,"c":52459},{"i":428,"o":52475,"h":53393,"l":52455,"c":52910},{"i":429,"o":53264,"h":53554,"l":53180,"c":53200},{"i":430,"o":53184,"h":53205,"l":52830,"c":53152},{"i":431,"o":53152,"h":53365,"l":53130,"c":53345},{"i":432,"o":53264,"h":53525,"l":53245,"c":53506},{"i":433,"o":53506,"h":54105,"l":53490,"c":54086},{"i":434,"o":54086,"h":54330,"l":54065,"c":54312},{"i":435,"o":54312,"h":54473,"l":54230,"c":54247},{"i":436,"o":54247,"h":54265,"l":54050,"c":54070},{"i":437,"o":54086,"h":54105,"l":53844,"c":53989},{"i":438,"o":54005,"h":54265,"l":53985,"c":54247},{"i":439,"o":54231,"h":54345,"l":54210,"c":54328},{"i":440,"o":54344,"h":54424,"l":54260,"c":54279},{"i":441,"o":54279,"h":54790,"l":54260,"c":54779},{"i":442,"o":54779,"h":54790,"l":54615,"c":54634},{"i":443,"o":52507,"h":53039,"l":51035,"c":51090}],
"hist":[{"i":0,"v":168},{"i":1,"v":167},{"i":2,"v":161},{"i":3,"v":144,"y":72},{"i":4,"v":135,"y":67.5},{"i":5,"v":129,"y":63.5},{"i":6,"v":122.6,"y":60},{"i":7,"v":123.5,"y":61},{"i":8,"v":120,"y":59},{"i":9,"v":117,"y":58},{"i":10,"v":113,"y":56},{"i":11,"v":116.5,"y":57},{"i":12,"v":116.5,"y":58},{"i":13,"v":115,"y":56.5},{"i":14,"v":112,"y":55},{"i":15,"v":108,"y":53},{"i":16,"v":102.6,"y":51},{"i":17,"v":97,"y":48},{"i":18,"v":91,"y":45},{"i":19,"v":86,"y":43},{"i":20,"v":80,"y":40},{"i":21,"v":75,"y":37},{"i":22,"v":65,"y":32},{"i":23,"v":55,"y":26},{"i":24,"v":33,"y":16},{"i":25,"v":11,"y":5.5},{"i":26,"v":-4},{"i":27,"v":-27},{"i":28,"v":-51},{"i":29,"v":-66},{"i":30,"v":-74},{"i":31,"v":-71},{"i":32,"v":-70},{"i":33,"v":-58},{"i":34,"v":-38,"y":-18},{"i":35,"v":-28,"y":-14},{"i":36,"v":-19,"y":-9},{"i":37,"v":-9,"y":-3.5},{"i":38,"v":-18,"y":-9},{"i":39,"v":-25,"y":-12},{"i":40,"v":-33},{"i":41,"v":-37},{"i":42,"v":-38},{"i":43,"v":-47},{"i":44,"v":-55},{"i":45,"v":-56.5},{"i":46,"v":-58},{"i":47,"v":-73},{"i":48,"v":-93},{"i":49,"v":-105},{"i":50,"v":-107},{"i":51,"v":-110},{"i":52,"v":-108},{"i":53,"v":-107},{"i":54,"v":-105},{"i":55,"v":-106},{"i":56,"v":-103.5},{"i":57,"v":-97,"y":-48},{"i":58,"v":-89,"y":-43.5},{"i":59,"v":-80,"y":-39},{"i":60,"v":-72,"y":-36},{"i":61,"v":-66,"y":-33},{"i":62,"v":-68,"y":-33},{"i":63,"v":-60,"y":-30},{"i":64,"v":-52,"y":-25},{"i":65,"v":-35,"y":-17},{"i":66,"v":-14,"y":-6},{"i":67,"v":-9,"y":-3.5},{"i":68,"v":-16.5,"y":-8},{"i":69,"v":-23,"y":-10},{"i":70,"v":-31,"y":-15},{"i":71,"v":-38},{"i":72,"v":-43},{"i":73,"v":-49},{"i":74,"v":-52},{"i":75,"v":-55},{"i":76,"v":-56},{"i":77,"v":-51},{"i":78,"v":-47,"y":-23},{"i":79,"v":-47,"y":-23},{"i":80,"v":-39,"y":-19},{"i":81,"v":-31,"y":-15},{"i":82,"v":-24,"y":-11},{"i":83,"v":-15,"y":-7},{"i":84,"v":-4,"y":-1},{"i":85,"v":3},{"i":86,"v":6},{"i":87,"v":9},{"i":88,"v":11},{"i":89,"v":13},{"i":90,"v":19},{"i":91,"v":20},{"i":92,"v":23},{"i":93,"v":30},{"i":94,"v":33},{"i":95,"v":36},{"i":96,"v":38},{"i":97,"v":37},{"i":98,"v":32},{"i":99,"v":33},{"i":100,"v":32},{"i":101,"v":31},{"i":102,"v":37},{"i":103,"v":50},{"i":104,"v":62},{"i":105,"v":77},{"i":106,"v":93},{"i":107,"v":102},{"i":108,"v":114},{"i":109,"v":117},{"i":110,"v":117},{"i":111,"v":113},{"i":112,"v":112},{"i":113,"v":137},{"i":114,"v":152},{"i":115,"v":157},{"i":116,"v":151},{"i":117,"v":144},{"i":118,"v":135},{"i":119,"v":130,"y":65},{"i":120,"v":122.6,"y":61},{"i":121,"v":122,"y":60},{"i":122,"v":122,"y":60},{"i":123,"v":122,"y":60},{"i":124,"v":119,"y":59},{"i":125,"v":118,"y":58},{"i":126,"v":116.5,"y":57},{"i":127,"v":106,"y":52},{"i":128,"v":99,"y":49},{"i":129,"v":91,"y":45},{"i":130,"v":85,"y":42},{"i":131,"v":82.6,"y":40},{"i":132,"v":78,"y":38},{"i":133,"v":81,"y":39},{"i":134,"v":81,"y":40},{"i":135,"v":80,"y":40},{"i":136,"v":89},{"i":137,"v":96.5},{"i":138,"v":88,"y":43},{"i":139,"v":65,"y":31},{"i":140,"v":44,"y":22},{"i":141,"v":36,"y":17},{"i":142,"v":25,"y":12},{"i":143,"v":-3.5},{"i":144,"v":-26},{"i":145,"v":-46},{"i":146,"v":-68},{"i":147,"v":-80},{"i":148,"v":-87},{"i":149,"v":-89},{"i":150,"v":-83.5},{"i":151,"v":-81},{"i":152,"v":-73},{"i":153,"v":-62,"y":-30},{"i":154,"v":-52,"y":-25},{"i":155,"v":-44,"y":-22},{"i":156,"v":-36.5,"y":-17},{"i":157,"v":-31,"y":-15},{"i":158,"v":-24,"y":-11},{"i":159,"v":-21,"y":-9.5},{"i":160,"v":-16.5,"y":-8},{"i":161,"v":-9.5,"y":-4},{"i":162,"v":-6,"y":-2.5},{"i":163,"v":3.5},{"i":164,"v":16},{"i":165,"v":23.5},{"i":166,"v":26},{"i":167,"v":29},{"i":168,"v":36.5},{"i":169,"v":39},{"i":170,"v":43},{"i":171,"v":48},{"i":172,"v":52},{"i":173,"v":51},{"i":174,"v":43.5},{"i":175,"v":38,"y":19},{"i":176,"v":36.5,"y":17},{"i":177,"v":30,"y":14},{"i":178,"v":28,"y":13},{"i":179,"v":23,"y":10},{"i":180,"v":19,"y":9},{"i":181,"v":3.5,"y":1.5},{"i":182,"v":-4},{"i":183,"v":-16},{"i":184,"v":-22},{"i":185,"v":-26},{"i":186,"v":-22},{"i":187,"v":-20},{"i":188,"v":-29},{"i":189,"v":-46},{"i":190,"v":-69},{"i":191,"v":-82},{"i":192,"v":-92},{"i":193,"v":-99},{"i":194,"v":-98},{"i":195,"v":-93},{"i":196,"v":-85},{"i":197,"v":-80},{"i":198,"v":-72,"y":-36},{"i":199,"v":-63.5,"y":-31},{"i":200,"v":-51,"y":-25},{"i":201,"v":-50,"y":-24},{"i":202,"v":-47,"y":-23},{"i":203,"v":-40,"y":-19},{"i":204,"v":-31,"y":-15},{"i":205,"v":-36.5,"y":-17},{"i":206,"v":-38,"y":-19},{"i":207,"v":-40,"y":-19},{"i":208,"v":-34,"y":-16.5},{"i":209,"v":-31,"y":-15},{"i":210,"v":-24,"y":-12},{"i":211,"v":-23.5,"y":-11},{"i":212,"v":-23.5,"y":-11},{"i":213,"v":-24,"y":-11},{"i":214,"v":-22,"y":-10},{"i":215,"v":-19,"y":-9.5},{"i":216,"v":-22,"y":-10},{"i":217,"v":-30},{"i":218,"v":-67},{"i":219,"v":-96.5},{"i":220,"v":-115},{"i":221,"v":-127},{"i":222,"v":-129.5},{"i":223,"v":-132},{"i":224,"v":-131},{"i":225,"v":-127},{"i":226,"v":-121},{"i":227,"v":-107,"y":-53},{"i":228,"v":-99,"y":-49},{"i":229,"v":-98,"y":-49},{"i":230,"v":-94,"y":-46},{"i":231,"v":-90,"y":-44},{"i":232,"v":-81,"y":-40},{"i":233,"v":-74,"y":-36.5},{"i":234,"v":-64,"y":-32},{"i":235,"v":-63,"y":-30},{"i":236,"v":-60,"y":-30},{"i":237,"v":-56.5,"y":-28},{"i":238,"v":-52,"y":-26},{"i":239,"v":-43,"y":-21},{"i":240,"v":-30,"y":-15},{"i":241,"v":-16.5,"y":-8},{"i":242,"v":-9,"y":-3.5},{"i":243,"v":2},{"i":244,"v":13},{"i":245,"v":14},{"i":246,"v":16.5},{"i":247,"v":21},{"i":248,"v":19},{"i":249,"v":23.5},{"i":250,"v":28},{"i":251,"v":30},{"i":252,"v":26},{"i":253,"v":23},{"i":254,"v":23},{"i":255,"v":22},{"i":256,"v":20,"y":10},{"i":257,"v":17,"y":8},{"i":258,"v":11,"y":6},{"i":259,"v":-0.5},{"i":260,"v":-15},{"i":261,"v":-40},{"i":262,"v":-49.5},{"i":263,"v":-50},{"i":264,"v":-61},{"i":265,"v":-74},{"i":266,"v":-87},{"i":267,"v":-96},{"i":268,"v":-100},{"i":269,"v":-101},{"i":270,"v":-100},{"i":271,"v":-96},{"i":272,"v":-89},{"i":273,"v":-85,"y":-42},{"i":274,"v":-82.6,"y":-41},{"i":275,"v":-79,"y":-39},{"i":276,"v":-79,"y":-39},{"i":277,"v":-76,"y":-37.5},{"i":278,"v":-73,"y":-36.5},{"i":279,"v":-71,"y":-35.5},{"i":280,"v":-69.5,"y":-34},{"i":281,"v":-66,"y":-33},{"i":282,"v":-63.5,"y":-31},{"i":283,"v":-60,"y":-30},{"i":284,"v":-52,"y":-25},{"i":285,"v":-36.5,"y":-17},{"i":286,"v":-24,"y":-12},{"i":287,"v":-13,"y":-6},{"i":288,"v":9.5},{"i":289,"v":15.6},{"i":290,"v":22},{"i":291,"v":27},{"i":292,"v":37},{"i":293,"v":37},{"i":294,"v":53},{"i":295,"v":61},{"i":296,"v":78},{"i":297,"v":88},{"i":298,"v":89.6},{"i":299,"v":88.7},{"i":300,"v":90.4},{"i":301,"v":91},{"i":302,"v":90},{"i":303,"v":82.6},{"i":304,"v":69.6,"y":34.5},{"i":305,"v":52,"y":25},{"i":306,"v":42.6,"y":20},{"i":307,"v":35.7,"y":17},{"i":308,"v":30,"y":15},{"i":309,"v":32,"y":16},{"i":310,"v":28,"y":13},{"i":311,"v":23,"y":10},{"i":312,"v":16,"y":7},{"i":313,"v":13,"y":6},{"i":314,"v":12,"y":5},{"i":315,"v":-3.5},{"i":316,"v":-7},{"i":317,"v":-10},{"i":318,"v":-20},{"i":319,"v":-21},{"i":320,"v":-17},{"i":321,"v":-12},{"i":322,"v":-6,"y":-2.5},{"i":323,"v":4.3},{"i":324,"v":14},{"i":325,"v":20},{"i":326,"v":24},{"i":327,"v":29},{"i":328,"v":36},{"i":329,"v":41},{"i":330,"v":42},{"i":331,"v":43},{"i":332,"v":48},{"i":333,"v":50},{"i":334,"v":50},{"i":335,"v":60},{"i":336,"v":70},{"i":337,"v":75},{"i":338,"v":73},{"i":339,"v":65},{"i":340,"v":61,"y":30},{"i":341,"v":50,"y":25},{"i":342,"v":43.5,"y":21},{"i":343,"v":43.5,"y":21},{"i":344,"v":42,"y":20},{"i":345,"v":39,"y":19},{"i":346,"v":39,"y":19},{"i":347,"v":35,"y":16.5},{"i":348,"v":32,"y":16},{"i":349,"v":32,"y":16},{"i":350,"v":29.6,"y":15},{"i":351,"v":27,"y":14},{"i":352,"v":23.5,"y":11},{"i":353,"v":22.6,"y":10},{"i":354,"v":21,"y":9.5},{"i":355,"v":20,"y":9},{"i":356,"v":22,"y":9.5},{"i":357,"v":22,"y":10},{"i":358,"v":22,"y":10},{"i":359,"v":20,"y":9.5},{"i":360,"v":16.5,"y":7},{"i":361,"v":15,"y":7},{"i":362,"v":11,"y":4},{"i":363,"v":8.7,"y":3.5},{"i":364,"v":6,"y":2},{"i":365,"v":-0.5},{"i":366,"v":-0.5},{"i":367,"v":-2},{"i":368,"v":16.5},{"i":369,"v":32},{"i":370,"v":46},{"i":371,"v":55.6},{"i":372,"v":65},{"i":373,"v":72},{"i":374,"v":77},{"i":375,"v":77},{"i":376,"v":78},{"i":377,"v":69},{"i":378,"v":61,"y":30},{"i":379,"v":56.5,"y":28},{"i":380,"v":52,"y":25},{"i":381,"v":48,"y":23.5},{"i":382,"v":45,"y":22},{"i":383,"v":44,"y":22},{"i":384,"v":46,"y":22},{"i":385,"v":46,"y":22},{"i":386,"v":46,"y":22.6},{"i":387,"v":47,"y":22.6},{"i":388,"v":43.5,"y":21},{"i":389,"v":42,"y":20},{"i":390,"v":42,"y":20},{"i":391,"v":43,"y":20},{"i":392,"v":43,"y":21},{"i":393,"v":45},{"i":394,"v":45},{"i":395,"v":45},{"i":396,"v":47},{"i":397,"v":49},{"i":398,"v":52},{"i":399,"v":59},{"i":400,"v":67},{"i":401,"v":77},{"i":402,"v":82},{"i":403,"v":84},{"i":404,"v":82},{"i":405,"v":77},{"i":406,"v":74},{"i":407,"v":66,"y":32},{"i":408,"v":62,"y":30},{"i":409,"v":56,"y":27},{"i":410,"v":49,"y":23.5},{"i":411,"v":43.5,"y":21},{"i":412,"v":42,"y":20},{"i":413,"v":41,"y":20},{"i":414,"v":41,"y":19},{"i":415,"v":43,"y":21},{"i":416,"v":43,"y":21},{"i":417,"v":43,"y":21},{"i":418,"v":36,"y":17},{"i":419,"v":29,"y":14},{"i":420,"v":14,"y":6},{"i":421,"v":5,"y":2},{"i":422,"v":-0.5},{"i":423,"v":-4},{"i":424,"v":-13},{"i":425,"v":-22},{"i":426,"v":-32},{"i":427,"v":-43},{"i":428,"v":-39},{"i":429,"v":-36.5},{"i":430,"v":-35},{"i":431,"v":-30},{"i":432,"v":-24,"y":-11},{"i":433,"v":-11,"y":-5},{"i":434,"v":3.5},{"i":435,"v":14},{"i":436,"v":19},{"i":437,"v":20},{"i":438,"v":25},{"i":439,"v":30},{"i":440,"v":33},{"i":441,"v":41},{"i":442,"v":46},{"i":443,"v":-4}],
"balls":[{"i":85,"v":10,"k":"up"},{"i":163,"v":10.7,"k":"up"},{"i":243,"v":9,"k":"up"},{"i":288,"v":17,"k":"up"},{"i":323,"v":12,"k":"up"},{"i":368,"v":24,"k":"up"},{"i":434,"v":11,"k":"up"},{"i":26,"v":-10,"k":"down"},{"i":143,"v":-10,"k":"down"},{"i":182,"v":-10,"k":"down"},{"i":259,"v":-6.5,"k":"down"},{"i":315,"v":-9,"k":"down"},{"i":365,"v":-6.5,"k":"down"},{"i":422,"v":-6.5,"k":"down"},{"i":443,"v":-10,"k":"down"}],
"header":[{"i":0.6,"p":55992,"t":"赢家多空通道 ∨","k":"title"},{"i":23.6,"p":55992,"t":"MID 53598.96","k":"white"},{"i":45.4,"p":55992,"t":"TOP 54178.38","k":"magenta"},{"i":67.5,"p":55992,"t":"TOPK 53830.73","k":"white"},{"i":91.2,"p":55992,"t":"BOTTOM 53019.54","k":"cyan"},{"i":120.2,"p":55992,"t":"TOP1 54526.03","k":"magenta"},{"i":144,"p":55992,"t":"BOTTOM1 52671.88","k":"cyan"},{"i":-0.4,"p":47642,"t":"7天","k":"title"}],
"prices":[{"i":138.1,"p":55729,"t":"55605","k":"hi"},{"i":11,"p":53297,"t":"53165","k":"hi"},{"i":441,"p":54908,"t":"54770","k":"hi"},{"i":55,"p":48399,"t":"48510","k":"lo"},{"i":218,"p":47610,"t":"47750","k":"lo"},{"i":442.3,"p":50896,"t":"51035","k":"lo"}],
"signals":[{"i":26.7,"p":52942,"t":"卖 空","k":"sell"},{"i":142.7,"p":55028,"t":"卖 空","k":"sell"},{"i":73,"p":50574,"t":"卖 空","k":"sell"},{"i":314.5,"p":50203,"t":"卖 空","k":"sell"},{"i":419.7,"p":54553,"t":"卖 空","k":"sell"},{"i":443,"p":54763,"t":"卖 空","k":"sell"},{"i":66.2,"p":48866,"t":"买 多","k":"buy"},{"i":90.2,"p":49044,"t":"买 多","k":"buy"},{"i":287.7,"p":47835,"t":"买 多","k":"buy"},{"i":322.7,"p":48754,"t":"买 多","k":"buy"},{"i":432.7,"p":52475,"t":"买 多","k":"buy"}],
"stamp":[{"i":411.2,"i2":446.1,"p":48302,"p2":47550}]
},
"vconcat":[
{"width":1791,"height":535,
"encoding":{"x":{"field":"i","type":"quantitative","scale":{"domain":[-1.625,446.125],"nice":false,"zero":false,"padding":0},"axis":null}},
"layer":[
{"data":{"name":"band"},"mark":{"type":"area","color":"#808080","orient":"vertical"},"encoding":{"y":{"field":"t","type":"quantitative","axis":null,"scale":{"domain":[47513,56132],"nice":false,"zero":false}},"y2":{"field":"b"}}},
{"data":{"name":"band"},"mark":{"type":"line","color":"#FF00FF","strokeWidth":1.3},"encoding":{"y":{"field":"t","type":"quantitative","axis":null,"scale":{"domain":[47513,56132],"nice":false,"zero":false}}}},
{"data":{"name":"band"},"mark":{"type":"line","color":"#00FFFF","strokeWidth":1},"encoding":{"y":{"field":"b","type":"quantitative","axis":null,"scale":{"domain":[47513,56132],"nice":false,"zero":false}}}},
{"data":{"name":"band"},"mark":{"type":"line","color":"#FFFFFF","strokeWidth":1},"encoding":{"y":{"field":"m","type":"quantitative","axis":null,"scale":{"domain":[47513,56132],"nice":false,"zero":false}}}},
{"data":{"name":"band"},"mark":{"type":"line","color":"#FFFFFF","strokeWidth":1,"strokeDash":[4,5]},"encoding":{"y":{"field":"k","type":"quantitative","axis":null,"scale":{"domain":[47513,56132],"nice":false,"zero":false}}}},
{"data":{"name":"band"},"mark":{"type":"line","color":"#FF00FF","strokeWidth":1,"strokeDash":[2,5]},"encoding":{"y":{"field":"u","type":"quantitative","axis":null,"scale":{"domain":[47513,56132],"nice":false,"zero":false}}}},
{"data":{"name":"band"},"mark":{"type":"line","color":"#00FFFF","strokeWidth":1,"strokeDash":[2,5]},"encoding":{"y":{"field":"d","type":"quantitative","axis":null,"scale":{"domain":[47513,56132],"nice":false,"zero":false}}}},
{"data":{"values":[{"i":-0.4,"i2":446.1,"p":55000},{"i":-0.4,"i2":446.1,"p":50000}]},"mark":{"type":"rule","color":"#A00000","strokeDash":[4,3],"strokeWidth":1},"encoding":{"x2":{"field":"i2"},"y":{"field":"p","type":"quantitative","axis":null,"scale":{"domain":[47513,56132],"nice":false,"zero":false}}}},
{"data":{"name":"steps"},"mark":{"type":"line","interpolate":"step-after","strokeDash":[3,2],"strokeWidth":1},"encoding":{"y":{"field":"p","type":"quantitative","axis":null,"scale":{"domain":[47513,56132],"nice":false,"zero":false}},"detail":{"field":"s"},"color":{"field":"c","type":"nominal","legend":null,"scale":{"domain":["g","r","w","title","white","magenta","cyan","hi","lo","sell","buy","up","down"],"range":["#00FF00","#FF1010","#FFFFFF","#FFFF00","#FFFFFF","#FF00FF","#00FFFF","#FF4B4B","#20C8D8","#00FF00","#FFFF00","#E80000","#006E00"]}}}},
{"data":{"name":"candles"},"mark":{"type":"rule","strokeWidth":1},"encoding":{"y":{"field":"l","type":"quantitative","axis":null,"scale":{"domain":[47513,56132],"nice":false,"zero":false}},"y2":{"field":"h"},"color":{"condition":[{"test":"datum.c>datum.o","value":"#FF4040"},{"test":"datum.c<datum.o","value":"#00E8F0"}],"value":"#FFFFFF"}}},
{"data":{"name":"candles"},"mark":{"type":"bar","size":2,"strokeWidth":1,"orient":"vertical"},"encoding":{"y":{"field":"o","type":"quantitative","stack":null,"axis":null,"scale":{"domain":[47513,56132],"nice":false,"zero":false}},"y2":{"field":"c"},"fill":{"condition":[{"test":"datum.c>datum.o","value":"#000000"},{"test":"datum.c<datum.o","value":"#00E8F0"}],"value":"#FFFFFF"},"stroke":{"condition":[{"test":"datum.c>datum.o","value":"#FF4040"},{"test":"datum.c<datum.o","value":"#00E8F0"}],"value":"#FFFFFF"}}},
{"data":{"name":"stamp"},"mark":{"type":"rect","color":"#F03C10"},"encoding":{"x":{"field":"i","type":"quantitative","scale":{"domain":[-1.625,446.125],"nice":false,"zero":false,"padding":0},"axis":null},"x2":{"field":"i2"},"y":{"field":"p","type":"quantitative","axis":null,"scale":{"domain":[47513,56132],"nice":false,"zero":false}},"y2":{"field":"p2"}}},
{"data":{"values":[{"i":413,"p":48045,"t":"股道边"}]},"mark":{"type":"text","align":"left","baseline":"middle","font":"Noto Sans CJK SC","fontWeight":"bold","fontSize":15,"color":"#FFD820"},"encoding":{"y":{"field":"p","type":"quantitative","axis":null,"scale":{"domain":[47513,56132],"nice":false,"zero":false}},"text":{"field":"t"}}},
{"data":{"values":[{"i":424.5,"p":48045,"t":"指标公式量化资源"}]},"mark":{"type":"text","align":"left","baseline":"middle","font":"Noto Sans CJK SC","fontSize":10,"color":"#F8B030"},"encoding":{"y":{"field":"p","type":"quantitative","axis":null,"scale":{"domain":[47513,56132],"nice":false,"zero":false}},"text":{"field":"t"}}},
{"data":{"values":[{"i":413,"p":47771,"t":"www.de6688.com"}]},"mark":{"type":"text","align":"left","baseline":"middle","font":"Liberation Sans","fontWeight":"bold","fontSize":15.5,"color":"#FFFFFF"},"encoding":{"y":{"field":"p","type":"quantitative","axis":null,"scale":{"domain":[47513,56132],"nice":false,"zero":false}},"text":{"field":"t"}}},
{"data":{"name":"header"},"mark":{"type":"text","align":"left","baseline":"middle","font":"Liberation Sans, Noto Sans CJK SC","fontSize":12},"encoding":{"y":{"field":"p","type":"quantitative","axis":null,"scale":{"domain":[47513,56132],"nice":false,"zero":false}},"text":{"field":"t"},"color":{"field":"k","type":"nominal","legend":null,"scale":{"domain":["g","r","w","title","white","magenta","cyan","hi","lo","sell","buy","up","down"],"range":["#00FF00","#FF1010","#FFFFFF","#FFFF00","#FFFFFF","#FF00FF","#00FFFF","#FF4B4B","#20C8D8","#00FF00","#FFFF00","#E80000","#006E00"]}}}},
{"data":{"name":"prices"},"mark":{"type":"text","align":"center","baseline":"middle","font":"Liberation Sans","fontSize":12},"encoding":{"y":{"field":"p","type":"quantitative","axis":null,"scale":{"domain":[47513,56132],"nice":false,"zero":false}},"text":{"field":"t"},"color":{"field":"k","type":"nominal","legend":null,"scale":{"domain":["g","r","w","title","white","magenta","cyan","hi","lo","sell","buy","up","down"],"range":["#00FF00","#FF1010","#FFFFFF","#FFFF00","#FFFFFF","#FF00FF","#00FFFF","#FF4B4B","#20C8D8","#00FF00","#FFFF00","#E80000","#006E00"]}}}},
{"data":{"name":"signals"},"mark":{"type":"text","align":"center","baseline":"middle","font":"Noto Sans CJK SC","fontSize":20},"encoding":{"y":{"field":"p","type":"quantitative","axis":null,"scale":{"domain":[47513,56132],"nice":false,"zero":false}},"text":{"field":"t"},"color":{"field":"k","type":"nominal","legend":null,"scale":{"domain":["g","r","w","title","white","magenta","cyan","hi","lo","sell","buy","up","down"],"range":["#00FF00","#FF1010","#FFFFFF","#FFFF00","#FFFFFF","#FF00FF","#00FFFF","#FF4B4B","#20C8D8","#00FF00","#FFFF00","#E80000","#006E00"]}}}},
{"data":{"values":[{"i":-0.4,"i2":446.1,"p":56115},{"i":-0.4,"i2":446.1,"p":47530}]},"mark":{"type":"rule","color":"#B01010","strokeWidth":1.5},"encoding":{"x2":{"field":"i2"},"y":{"field":"p","type":"quantitative","axis":null,"scale":{"domain":[47513,56132],"nice":false,"zero":false}}}},
{"data":{"values":[{"i":-0.4}]},"mark":{"type":"rule","color":"#B01010","strokeWidth":1.5},"encoding":{}}
]},
{"width":1791,"height":368,
"encoding":{"x":{"field":"i","type":"quantitative","scale":{"domain":[-1.625,446.125],"nice":false,"zero":false,"padding":0},"axis":null}},
"layer":[
{"data":{"name":"hist"},"transform":[{"filter":"datum.v>0"}],"mark":{"type":"bar","size":3.4,"color":"#FF0000","orient":"vertical"},"encoding":{"y":{"field":"v","type":"quantitative","stack":null,"axis":null,"scale":{"domain":[-135.65,184.35],"nice":false,"zero":false}}}},
{"data":{"name":"hist"},"transform":[{"filter":"datum.v<0&&datum.y==null"}],"mark":{"type":"bar","size":3.4,"color":"#20BC00","orient":"vertical"},"encoding":{"y":{"field":"v","type":"quantitative","stack":null,"axis":null,"scale":{"domain":[-135.65,184.35],"nice":false,"zero":false}}}},
{"data":{"name":"hist"},"transform":[{"filter":"datum.v<0&&datum.y!=null"}],"mark":{"type":"bar","size":3.4,"color":"#1E8000","orient":"vertical"},"encoding":{"y":{"field":"v","type":"quantitative","stack":null,"axis":null,"scale":{"domain":[-135.65,184.35],"nice":false,"zero":false}}}},
{"data":{"name":"hist"},"transform":[{"filter":"datum.y!=null"}],"mark":{"type":"bar","size":3.7,"color":"#FFFF00","orient":"vertical"},"encoding":{"y":{"field":"y","type":"quantitative","stack":null,"axis":null,"scale":{"domain":[-135.65,184.35],"nice":false,"zero":false}}}},
{"data":{"name":"balls"},"mark":{"type":"point","filled":true,"opacity":1,"size":50},"encoding":{"y":{"field":"v","type":"quantitative","axis":null,"scale":{"domain":[-135.65,184.35],"nice":false,"zero":false}},"color":{"field":"k","type":"nominal","legend":null,"scale":{"domain":["g","r","w","title","white","magenta","cyan","hi","lo","sell","buy","up","down"],"range":["#00FF00","#FF1010","#FFFFFF","#FFFF00","#FFFFFF","#FF00FF","#00FFFF","#FF4B4B","#20C8D8","#00FF00","#FFFF00","#E80000","#006E00"]}}}},
{"data":{"values":[{"i":-0.4,"i2":446.1,"v":100},{"i":-0.4,"i2":446.1,"v":-100}]},"mark":{"type":"rule","color":"#A00000","strokeDash":[4,3],"strokeWidth":1},"encoding":{"x2":{"field":"i2"},"y":{"field":"v","type":"quantitative","axis":null,"scale":{"domain":[-135.65,184.35],"nice":false,"zero":false}}}},
{"data":{"values":[{"i":0.6,"v":176.5,"t":"主力控盘反转(15) ∨"}]},"mark":{"type":"text","align":"left","baseline":"middle","font":"Liberation Sans, Noto Sans CJK SC","fontSize":12,"color":"#FFFF00"},"encoding":{"y":{"field":"v","type":"quantitative","axis":null,"scale":{"domain":[-135.65,184.35],"nice":false,"zero":false}},"text":{"field":"t"}}},
{"data":{"values":[{"i":-0.4,"i2":446.1,"v":-134.3}]},"mark":{"type":"rule","color":"#B01010","strokeWidth":1.5},"encoding":{"x2":{"field":"i2"},"y":{"field":"v","type":"quantitative","axis":null,"scale":{"domain":[-135.65,184.35],"nice":false,"zero":false}}}},
{"data":{"values":[{"i":-0.4}]},"mark":{"type":"rule","color":"#B01010","strokeWidth":1.5},"encoding":{}}
]}
]}
